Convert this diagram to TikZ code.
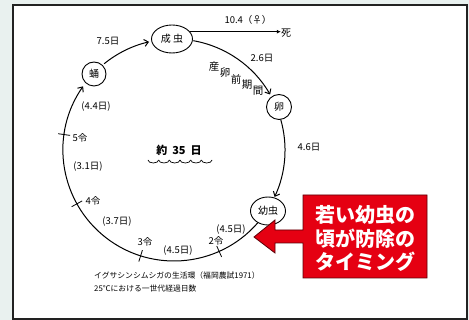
\documentclass[tikz,border=0pt]{standalone}
\usepackage{fontspec}
\setmainfont{Noto Sans CJK JP}
\usetikzlibrary{shapes.geometric,arrows.meta}
\definecolor{bgc}{HTML}{E9F1EF}
\definecolor{callred}{HTML}{E50012}
\definecolor{frame}{HTML}{222222}
\begin{document}
\begin{tikzpicture}[x=1pt,y=-1pt,
  lbl/.style={font=\fontsize{9.5}{10}\selectfont, inner sep=0pt},
  caplbl/.style={font=\fontsize{7.8}{9}\selectfont, inner sep=0pt, anchor=west},
  stage/.style={draw, line width=0.9pt, inner sep=0pt, font=\fontsize{10}{11}\selectfont},
  cyc/.style={line width=1pt},
  cycarrow/.style={cyc, -{Straight Barb[length=4pt,width=7pt]}},
  ticky/.style={line width=0.8pt}]
\fill[bgc] (0,0) rectangle (469,320);
\draw[fill=white, line width=1.4pt, draw=frame] (13,5) rectangle (467,319);
\useasboundingbox (0,0) rectangle (469,320);

\coordinate (O) at (174,150);
\node[stage, ellipse, minimum width=41pt, minimum height=28pt] (adult) at (172,39) {成 虫};
\node[stage, circle, minimum size=24pt] (pupa) at (94,74) {蛹};
\node[stage, circle, minimum size=25pt] (egg) at (279,107) {卵};
\node[stage, ellipse, minimum width=35pt, minimum height=28pt] (larva) at (268,211) {幼虫};

% cycle arcs
\draw[cycarrow] ([shift={(-80:111)}]O) arc[start angle=-80, end angle=-30, radius=111];
\draw[cycarrow] ([shift={(-16:111)}]O) arc[start angle=-16, end angle=25, radius=111];
\draw[cycarrow] ([shift={(41:111)}]O) arc[start angle=41, end angle=215, radius=111];
\draw[cycarrow] ([shift={(231:111)}]O) arc[start angle=231, end angle=257, radius=111];

% death
\node[lbl, font=\fontsize{10}{11}\selectfont] (death) at (286,33) {死};
\draw[line width=0.8pt, -{Latex[length=4pt,width=4pt]}] (adult.22) -- (adult.22 -| death.west);
\node[lbl] (l104) at (248,20) {10.4（♀）};

% ticks
\draw[ticky] ([shift={(188:105)}]O) -- ([shift={(188:117)}]O);
\draw[ticky] ([shift={(151:105)}]O) -- ([shift={(151:117)}]O);
\draw[ticky] ([shift={(107.5:105)}]O) -- ([shift={(107.5:117)}]O);
\draw[ticky] ([shift={(66:105)}]O) -- ([shift={(66:117)}]O);

% labels
\node[lbl] (l75) at (108,41) {7.5日};
\node[lbl] (l26) at (262,58) {2.6日};
\node[lbl, font=\fontsize{10.5}{11}\selectfont] (p1) at (214,67) {産};
\node[lbl, font=\fontsize{10.5}{11}\selectfont] (p2) at (225,73) {卵};
\node[lbl, font=\fontsize{10.5}{11}\selectfont] (p3) at (236,79) {前};
\node[lbl, font=\fontsize{10.5}{11}\selectfont] (p4) at (247,85) {期};
\node[lbl, font=\fontsize{10.5}{11}\selectfont] (p5) at (258,91) {間};
\node[lbl] (l46) at (309,147) {4.6日};
\node[lbl] (l44) at (96,107) {(4.4日)};
\node[lbl] (i5) at (80,138) {5令};
\node[lbl] (l31) at (88,167) {(3.1日)};
\node[lbl] (i4) at (93,201) {4令};
\node[lbl] (l37) at (117,222) {(3.7日)};
\node[lbl] (i3) at (145,242) {3令};
\node[lbl] (l45a) at (178,251) {(4.5日)};
\node[lbl] (i2) at (216,241) {2令};
\node[lbl] (l45b) at (231,230) {(4.5日)};

% center
\node[lbl, font=\fontsize{11}{12}\selectfont\bfseries] (total) at (179,150) {約\hspace{5pt}35\hspace{5pt}日};
\foreach \i in {0,...,5}
  \draw[line width=0.7pt] ({148+\i*10.667},160) arc[start angle=180, end angle=0, x radius=5.333, y radius=3];

% caption
\node[caplbl] (cap1) at (94,276) {イグサシンシムシガの生活環（福岡農試1971）};
\node[caplbl] (cap2) at (94,289) {25℃における一世代経過日数};

% callout
\draw[fill=callred, draw=black!60!callred, line width=0.8pt]
  (303,195) -- (427,195) -- (427,278) -- (303,278) -- (303,243) -- (275,243)
  -- (275,253) -- (254,237) -- (275,220) -- (275,230) -- (303,230) -- cycle;
\node[text=white, inner sep=0pt, font=\fontsize{20}{23.5}\selectfont\bfseries, align=center] (callout) at (365,238.5) {若い幼虫の\\頃が防除の\\タイミング};
\end{tikzpicture}
\end{document}
